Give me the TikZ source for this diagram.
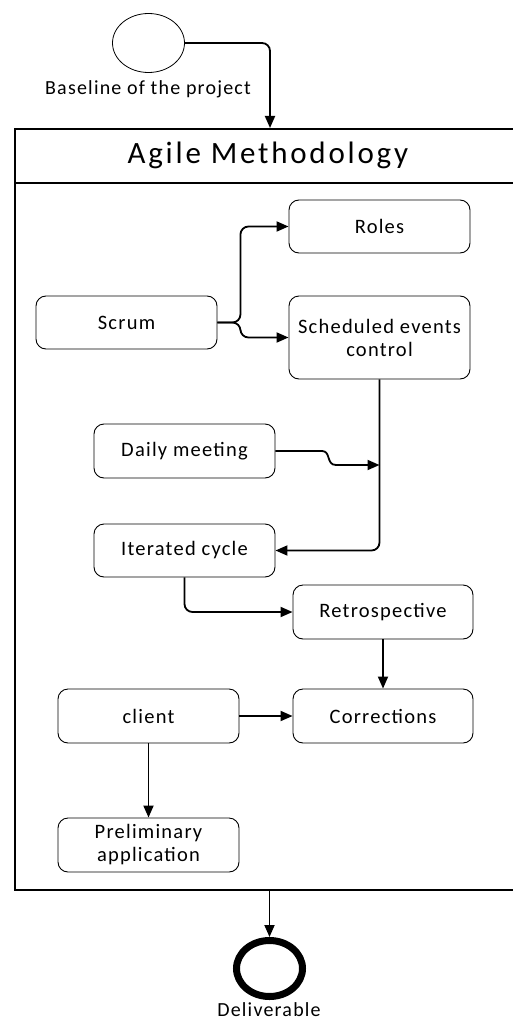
\documentclass[tikz,border=0pt]{standalone}
\usepackage{fontspec}
\setmainfont{Carlito}[LetterSpace=6]
\newfontfamily\titlefont{Carlito}[LetterSpace=9]
\usetikzlibrary{arrows.meta,shapes.geometric}
\tikzset{
  box/.style={draw, rounded corners=10pt, line width=0.9pt, minimum width=181pt,
    minimum height=53pt, align=center, inner sep=0pt,
    font=\fontsize{20.5}{23}\selectfont},
  conn/.style={line width=1.8pt, rounded corners=8pt,
    -{Triangle[length=12pt,width=10pt]}},
  lbl/.style={inner sep=0pt, font=\fontsize{20}{23}\selectfont},
  framebox/.style={draw, line width=1.8pt, inner sep=0pt, anchor=north west, minimum width=506pt},
}
\begin{document}
\begin{tikzpicture}[x=1pt,y=-1pt]
\useasboundingbox (0,0) rectangle (513,1019);
% start
\node[draw, ellipse, line width=0.8pt, minimum width=72pt, minimum height=59pt, inner sep=0pt] (start) at (148.5,43) {};
\node[lbl, anchor=base] (startlbl) at (148,95) {Baseline of the project};
% frame
\node[framebox, minimum height=54pt, font=\titlefont\fontsize{31}{33}\selectfont] (header) at (14,128) {Agile Methodology};
\node[framebox, minimum height=707pt] (body) at (14,182) {};
% boxes
\node[box] (roles) at (379.5,226.5) {Roles};
\node[box, minimum height=83pt] (sched) at (379.5,337.5) {Scheduled events\\control};
\node[box] (scrum) at (126.5,322.5) {Scrum};
\node[box, minimum height=54pt] (daily) at (184.5,451) {Daily meeting};
\node[box] (iter) at (184.5,550.5) {Iterated cycle};
\node[box, minimum width=180pt, minimum height=54pt] (retro) at (383,612) {Retrospective};
\node[box, minimum width=180pt, minimum height=54pt] (corr) at (383,716) {Corrections};
\node[box, minimum height=54pt] (client) at (148.5,716) {client};
\node[box, minimum height=54pt] (prelim) at (148.5,845) {Preliminary\\application};
% end
\node[draw, ellipse, line width=7pt, minimum width=66pt, minimum height=56pt, inner sep=0pt] (end) at (269.5,968.5) {};
\node[lbl, anchor=base] (endlbl) at (269,1016) {Deliverable};
% connectors
\coordinate (hin) at (270,128);
\coordinate (dj) at (379.5,465);
\draw[conn] (start.east) -| (hin);
\draw[conn] (scrum.east) -- ++(23,0) |- (roles.west);
\draw[conn] (scrum.east) -- ++(23,0) |- (sched.west);
\draw[conn] (sched.south) |- (iter.east);
\draw[conn, rounded corners=0pt] (daily.east) -- (322,451) .. controls (331,451) and (326,465) .. (336,465) -- (dj);
\draw[conn] (iter.south) |- (retro.west);
\draw[conn] (retro.south) -- (corr.north);
\draw[conn] (client.east) -- (corr.west);
\draw[conn] (client.south) -- (prelim.north);
\draw[conn] (end.north |- body.south) -- (end.north);
\end{tikzpicture}
\end{document}
